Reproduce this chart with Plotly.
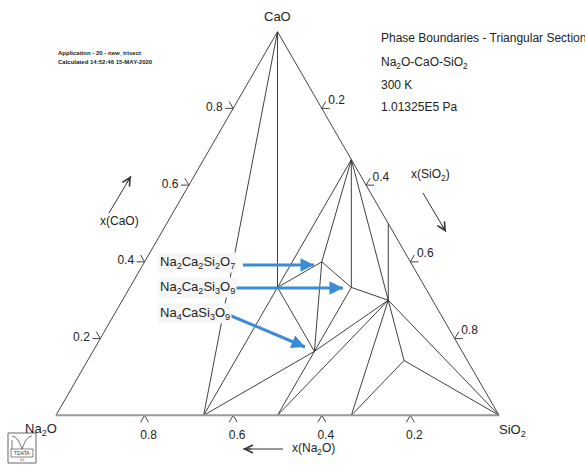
import math
import plotly.graph_objects as go

W, H = 585, 466

# ---- data: compounds (mole fractions) ----
compounds = ["CaO", "Na2O", "SiO2", "Na4SiO4", "Na2SiO3", "Na2Si2O5",
             "Na2CaSiO4", "Na2Ca2Si2O7", "Na2Ca2Si3O9", "Na4CaSi3O9",
             "Ca2SiO4", "CaSiO3", "Na2Ca3Si6O16", "Na2CaSi5O12"]
x_cao = [1, 0, 0, 0, 0, 0, 1/3, 0.4, 1/3, 1/6, 2/3, 0.5, 0.3, 1/7]
x_na2o = [0, 1, 0, 2/3, 0.5, 1/3, 1/3, 0.2, 1/6, 1/3, 0, 0, 0.1, 1/7]
x_sio2 = [0, 0, 1, 1/3, 0.5, 2/3, 1/3, 0.4, 0.5, 0.5, 1/3, 0.5, 0.6, 5/7]

# phase boundaries (tie lines) between compounds
tie_lines = [
    ("CaO", "Na4SiO4"), ("CaO", "Na2CaSiO4"), ("Na4SiO4", "Na2CaSiO4"),
    ("Na2CaSiO4", "Ca2SiO4"), ("Na2CaSiO4", "Na2Ca2Si2O7"),
    ("Na2Ca2Si2O7", "Ca2SiO4"), ("Ca2SiO4", "Na2Ca2Si3O9"),
    ("Na2Ca2Si2O7", "Na2Ca2Si3O9"), ("Ca2SiO4", "Na2Ca3Si6O16"),
    ("CaSiO3", "Na2Ca3Si6O16"), ("Na2Ca2Si3O9", "Na2Ca3Si6O16"),
    ("Na2CaSiO4", "Na4CaSi3O9"), ("Na2Ca2Si2O7", "Na4CaSi3O9"),
    ("Na4SiO4", "Na4CaSi3O9"), ("Na2SiO3", "Na4CaSi3O9"),
    ("Na2Ca2Si3O9", "Na4CaSi3O9"), ("Na4CaSi3O9", "Na2Ca3Si6O16"),
    ("Na2SiO3", "Na2Ca3Si6O16"), ("Na2Si2O5", "Na2Ca3Si6O16"),
    ("Na2Si2O5", "Na2CaSi5O12"), ("Na2Ca3Si6O16", "Na2CaSi5O12"),
    ("Na2CaSi5O12", "SiO2"), ("Na2Ca3Si6O16", "SiO2"),
]

tick_vals = [0.2, 0.4, 0.6, 0.8]
tick_text = ["0.2", "0.4", "0.6", "0.8"]

info_lines = ["Phase Boundaries - Triangular Section",
              "Na<sub>2</sub>O-CaO-SiO<sub>2</sub>", "300 K", "1.01325E5 Pa"]
phase_labels = ["Na<sub>2</sub>Ca<sub>2</sub>Si<sub>2</sub>O<sub>7</sub>",
                "Na<sub>2</sub>Ca<sub>2</sub>Si<sub>3</sub>O<sub>9</sub>",
                "Na<sub>4</sub>CaSi<sub>3</sub>O<sub>9</sub>"]

# ---- layout geometry of the triangle ----
TX = [0.0957, 0.8530]          # ternary domain (x, paper)
TY = [0.0704, 0.9704]          # ternary domain (y, paper)
S3 = math.sqrt(3) / 2
tri_w = (TX[1] - TX[0]) * W
tri_h = tri_w * S3
tri_bottom = H * (1 - (TY[0] + TY[1]) / 2) + tri_h / 2
PAD = 0.06
x_dom = [(TX[0] * W - PAD * tri_w) / W, (TX[1] * W + PAD * tri_w) / W]
y_dom = [1 - (tri_bottom + PAD * tri_w) / H, 1 - (tri_bottom - tri_h - PAD * tri_w) / H]

# ---- build tie-line trace ----
idx = {n: i for i, n in enumerate(compounds)}
ta, tb, tc = [], [], []
for p, q in tie_lines:
    for n in (p, q):
        ta.append(x_cao[idx[n]]); tb.append(x_na2o[idx[n]]); tc.append(x_sio2[idx[n]])
    ta.append(None); tb.append(None); tc.append(None)

FONT = "Liberation Sans, Arial, sans-serif"
fig = go.Figure()
fig.add_trace(go.Scatterternary(a=ta, b=tb, c=tc, mode="lines",
                                line=dict(color="#2a2a2a", width=0.9),
                                hoverinfo="skip", showlegend=False))

# ---- two-armed tick marks (cartesian overlay aligned to triangle) ----
L = 8 / tri_w
tx, ty = [], []
for v in tick_vals:
    # left edge (CaO)
    x0, y0 = v / 2, v * S3
    tx += [x0 - L, x0, x0 - 0.5 * L, None]; ty += [y0, y0, y0 + S3 * L, None]
    # bottom edge (Na2O)
    x0, y0 = 1 - v, 0
    tx += [x0 - 0.5 * L, x0, x0 + 0.5 * L, None]; ty += [y0 - S3 * L, y0, y0 - S3 * L, None]
    # right edge (SiO2)
    x0, y0 = (1 + v) / 2, (1 - v) * S3
    tx += [x0 + L, x0, x0 + 0.5 * L, None]; ty += [y0, y0, y0 + S3 * L, None]
fig.add_trace(go.Scatter(x=tx, y=ty, mode="lines", line=dict(color="#444", width=1),
                         hoverinfo="skip", showlegend=False, xaxis="x", yaxis="y"))

axis_common = dict(tickvals=tick_vals, ticktext=tick_text, ticks="outside",
                   ticklen=8, tickwidth=1, tickcolor="rgba(0,0,0,0)", showgrid=False,
                   tickfont=dict(family=FONT, size=12, color="#222"),
                   title=dict(text=""), min=0)
fig.update_layout(
    width=W, height=H, margin=dict(l=0, r=0, t=0, b=0),
    paper_bgcolor="white", plot_bgcolor="rgba(0,0,0,0)", showlegend=False,
    font=dict(family=FONT, color="#222"),
    ternary=dict(
        sum=1, bgcolor="rgba(0,0,0,0)",
        domain=dict(x=TX, y=TY),
        aaxis=dict(axis_common, linecolor="#444", linewidth=1),
        baxis=dict(axis_common, linecolor="#999", linewidth=2),
        caxis=dict(axis_common, linecolor="#444", linewidth=1),
    ),
    xaxis=dict(domain=x_dom, range=[-PAD, 1 + PAD], visible=False, fixedrange=True),
    yaxis=dict(domain=y_dom, range=[-PAD, S3 + PAD], visible=False, fixedrange=True),
)

def P(x, y):
    return x / W, 1 - y / H

ann = []
shapes = []
def text(x, y, s, size=12, anchor="center", bg=None, color="#222"):
    px, py = P(x, y)
    d = dict(x=px, y=py, xref="paper", yref="paper", text=s, showarrow=False,
             xanchor=anchor, yanchor="middle",
             font=dict(family=FONT, size=size, color=color))
    if bg:
        d.update(bgcolor=bg, borderpad=1)
    ann.append(d)

# vertex labels
text(277, 17, "CaO", 13)
text(41, 429, "Na<sub>2</sub>O", 13)
text(512, 430, "SiO<sub>2</sub>", 13)
# info block
for s, y in zip(info_lines, [38, 63, 85, 107]):
    text(379, y, s, 12, "left")
# small calc info
text(56, 53, "<b>Application - 20 - new_trisect</b>", 6, "left")
text(56, 62, "<b>Calculated 14:52:46 15-MAY-2020</b>", 6, "left")
# axis titles
text(119, 221, "x(CaO)", 12)
text(430, 175, "x(SiO<sub>2</sub>)", 12)
text(313, 449, "x(Na<sub>2</sub>O)", 12)
# phase labels
for s, y in zip(phase_labels, [262, 287, 313]):
    text(158, y, s, 13, "left", bg="#f6f6f6")

def arrow(x0, y0, x1, y1, color, width, head, size=1):
    # shaft as a shape, head as a short annotation arrow
    a0, b0 = P(x0, y0); a1, b1 = P(x1, y1)
    shapes.append(dict(type="line", xref="paper", yref="paper", x0=a0, y0=b0, x1=a1, y1=b1,
                       line=dict(color=color, width=width), layer="above"))
    d = math.hypot(x1 - x0, y1 - y0)
    k = 10 / d
    ann.append(dict(x=a1, y=b1, xref="paper", yref="paper", text="", showarrow=True,
                    ax=(x0 - x1) * k, ay=(y0 - y1) * k, axref="pixel", ayref="pixel",
                    arrowcolor=color, arrowwidth=width, arrowhead=head, arrowsize=size,
                    standoff=0, startstandoff=0))

arrow(109, 213, 131, 176, "#333", 1, 5, 1.6)
arrow(423, 193, 446, 232, "#333", 1, 5, 1.6)
arrow(283, 449, 243, 449, "#333", 1, 5, 1.6)

BLUE = "#3b8cd6"
arrow(243, 265, 314, 265, BLUE, 3, 2, 0.9)
arrow(230, 288, 343, 288, BLUE, 3, 2, 0.9)
arrow(222, 312, 305, 347, BLUE, 3, 2, 0.9)

# TDATA logo
def rect(x0, y0, x1, y1, **kw):
    a0, b0 = P(x0, y0); a1, b1 = P(x1, y1)
    shapes.append(dict(type="rect", xref="paper", yref="paper", x0=a0, y0=b1, x1=a1, y1=b0, **kw))
rect(8, 433, 36, 463, line=dict(color="#666", width=1), fillcolor="white")
rect(11, 449, 33, 457, line=dict(color="#666", width=0.8), fillcolor="white")
def path_pts(pts):
    s = ""
    for i, (x, y) in enumerate(pts):
        px, py = P(x, y)
        s += ("M" if i == 0 else "L") + f"{px:.5f},{py:.5f} "
    return s
curve = [(12, 436), (15, 437), (18, 440), (20, 444), (22, 449)]
curve2 = [(22, 449), (24, 444), (26, 440), (29, 437), (32, 436)]
shapes.append(dict(type="path", xref="paper", yref="paper", path=path_pts(curve),
                   line=dict(color="#555", width=0.8)))
shapes.append(dict(type="path", xref="paper", yref="paper", path=path_pts(curve2),
                   line=dict(color="#555", width=0.8)))
shapes.append(dict(type="path", xref="paper", yref="paper",
                   path=path_pts([(12, 440), (12, 449)]), line=dict(color="#555", width=0.8)))
text(22, 453, "TDATA", 5, color="#333")
text(22, 460, "6.0", 3, color="#333")

fig.update_layout(annotations=ann, shapes=shapes)

fig.write_html("out.html")
